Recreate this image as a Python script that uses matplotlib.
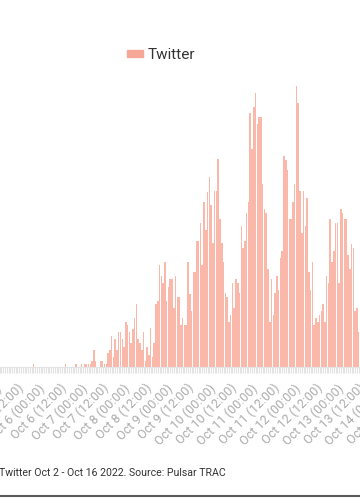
import pandas as pd
import matplotlib.pyplot as plt
from matplotlib.lines import Line2D
from matplotlib.patches import Patch

plt.rcParams['font.family'] = ['Roboto', 'DejaVu Sans']

# hourly volume of posts (units = bar height)
period_start = "2022-10-02 00:00"
period_end = "2022-10-16 00:00"
first_hour = "2022-10-05 16:00"
mentions = [
    3, 0, 0, 0, 0, 0, 0, 0, 0, 0, 0, 0, 0, 0, 0, 0, 0, 0, 3, 0, 0, 0, 0, 0,
    3, 0, 0, 3, 0, 3, 3, 3, 3, 6, 17, 6, 0, 0, 6, 6, 3, 3, 14, 17, 31, 10, 28, 17,
    35, 35, 28, 20, 45, 42, 35, 24, 38, 49, 63, 28, 24, 17, 35, 6, 20, 12,
    39, 10, 24, 63, 66, 102, 91, 84, 105, 66, 80, 88, 88, 59, 91, 70, 70, 42,
    49, 42, 42, 105, 73, 56, 95, 95, 126, 126, 144, 102, 165, 137, 175,
    190, 162, 124, 176, 176, 208, 148, 124, 105, 74, 70, 45, 52, 84, 59, 88, 84,
    74, 141, 119, 126, 154, 165, 254, 218, 260, 274, 243, 250, 250, 183, 158, 154, 98,
    45, 88, 52, 74, 91, 77, 109, 116, 211, 207, 197, 148, 148, 165, 183, 281, 264,
    176, 134, 176, 141, 169, 95, 77, 105, 42, 49, 45, 52, 56, 63, 45, 91, 84,
    148, 105, 116, 144, 144, 84, 158, 154, 148, 148, 112, 98, 123, 119, 56, 59, 35,
]
series_name = "Twitter"
caption = "Twitter Oct 2 - Oct 16 2022. Source: Pulsar TRAC"

bar_color = '#F9B8A9'
W, H = 360, 500


def fx(px):
    return px / W


def fy(py):
    return 1 - py / H


fig = plt.figure(figsize=(W / 100, H / 100), dpi=100)

# plot area is wider than the picture: the reference is a crop of a larger chart
pitch = 1.78
x0 = -123.0
left = x0 - 0.5 * pitch
n_hours = 336
ax = fig.add_axes([fx(left), fy(367), fx(n_hours * pitch), (367 - 80) / H])

start = pd.Timestamp(period_start)
hours = pd.date_range(first_hour, periods=len(mentions), freq='h')
ax.bar(hours, mentions, width=pd.Timedelta(minutes=52), color=bar_color, linewidth=0)

ax.set_xlim(start - pd.Timedelta(minutes=30), pd.Timestamp(period_end) - pd.Timedelta(minutes=30))
ax.set_ylim(0, 287)

ticks = pd.date_range(period_start, period_end, freq='12h')
ax.set_xticks(ticks)
ax.set_xticklabels([f"{t:%b} {t.day} ({t:%H:%M})" for t in ticks],
                   rotation=45, ha='right', color='#ababab', fontsize=9)
ax.set_xticks(pd.date_range(period_start, period_end, freq='h'), minor=True)
ax.tick_params(axis='x', which='both', length=4.5, width=0.8, color='#e3e3e3', pad=6)
ax.set_yticks([])

for s in ['top', 'left', 'right']:
    ax.spines[s].set_visible(False)
ax.spines['bottom'].set_color('#e3e3e3')
ax.spines['bottom'].set_linewidth(0.8)

fig.legend(handles=[Patch(color='#F6A898', label=series_name)],
           loc='center', bbox_to_anchor=(fx(161), fy(55)), frameon=False,
           fontsize=11, handlelength=1.05, handleheight=0.3, handletextpad=0.25,
           labelcolor='#333333')

fig.text(fx(-1), fy(473), caption, ha='left', va='center', fontsize=7.55, color='#333333')

fig.add_artist(Line2D([0, 1], [fy(495.5), fy(495.5)], transform=fig.transFigure,
                      color='#5a5a5a', linewidth=1.5))

fig.savefig('out.png', dpi=100)
